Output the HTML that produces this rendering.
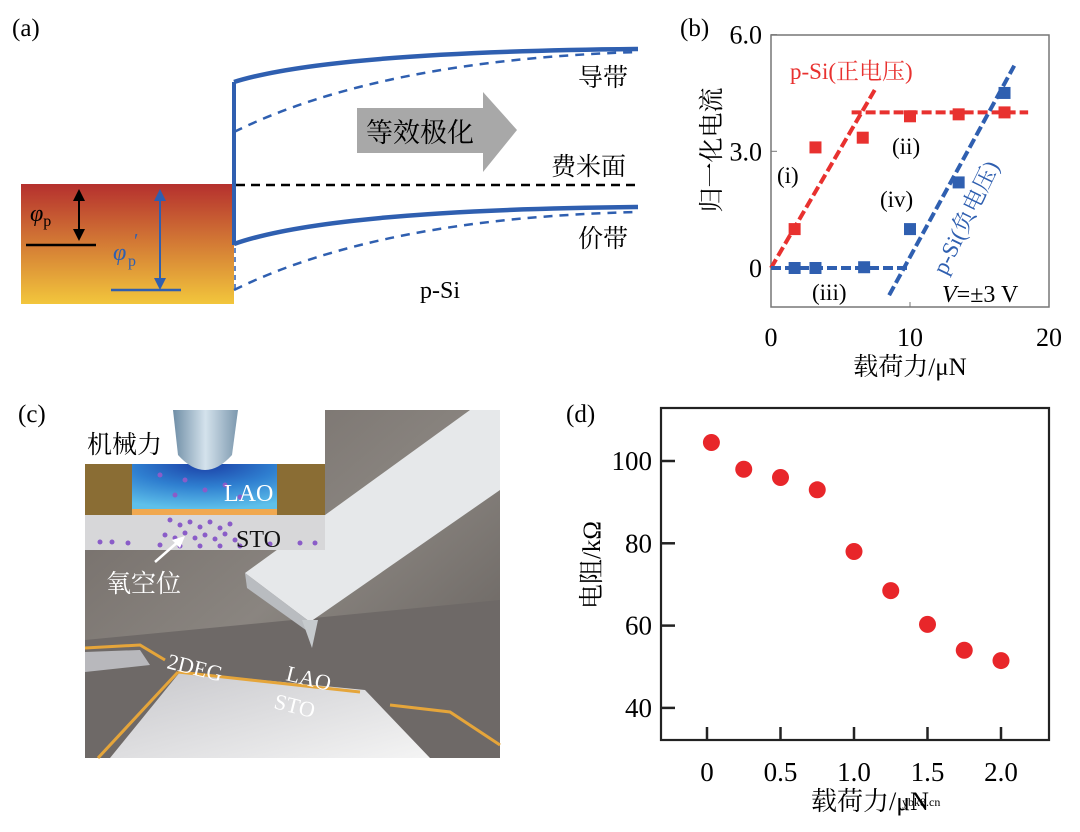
<!DOCTYPE html>
<html><head><meta charset="utf-8"><style>
html,body{margin:0;padding:0;background:#fff}
svg{display:block}
text{font-family:"Liberation Serif","Noto Serif CJK SC","Noto Sans CJK SC",serif}
.cjk{font-family:"Liberation Serif","Noto Serif CJK SC",serif}
</style></head><body>
<svg id="fig" width="1080" height="832" viewBox="0 0 1080 832" xmlns="http://www.w3.org/2000/svg">
<defs>
<linearGradient id="metal" x1="0" y1="0" x2="0" y2="1"><stop offset="0" stop-color="#b5302e"/><stop offset="1" stop-color="#f2c63c"/></linearGradient>
<linearGradient id="bg" x1="0" y1="0" x2="1" y2="1"><stop offset="0" stop-color="#6f6864"/><stop offset="0.5" stop-color="#8a8580"/><stop offset="1" stop-color="#5f5a57"/></linearGradient>
<linearGradient id="tip" x1="0" y1="0" x2="1" y2="0"><stop offset="0" stop-color="#6f8ea6"/><stop offset="0.5" stop-color="#d4e2ec"/><stop offset="1" stop-color="#7c98ae"/></linearGradient>
<radialGradient id="lao" cx="0.5" cy="0" r="1"><stop offset="0" stop-color="#1b3fa6"/><stop offset="0.5" stop-color="#2f7fd0"/><stop offset="1" stop-color="#5ec0ea"/></radialGradient>
<linearGradient id="pit" x1="0" y1="0" x2="1" y2="1"><stop offset="0" stop-color="#c8c8cc"/><stop offset="1" stop-color="#f4f4f4"/></linearGradient>
</defs>

<!-- Panel a -->
<g>
<text x="12" y="36" font-size="25">(a)</text>
<rect x="21" y="184" width="213" height="120" fill="url(#metal)"/>
<line x1="26" y1="245" x2="96" y2="245" stroke="#000" stroke-width="2.5"/>
<line x1="79" y1="196" x2="79" y2="236" stroke="#000" stroke-width="2"/>
<polygon points="79,189 73,201 85,201" fill="#000"/><polygon points="79,241 73,229 85,229" fill="#000"/>
<text x="30" y="221" font-size="24" font-style="italic">φ<tspan font-size="16" font-style="normal" dy="5">p</tspan></text>
<line x1="111" y1="290" x2="181" y2="290" stroke="#2f5fb0" stroke-width="2.5"/>
<line x1="160" y1="196" x2="160" y2="284" stroke="#2f5fb0" stroke-width="2"/>
<polygon points="160,189 154,201 166,201" fill="#2f5fb0"/><polygon points="160,290 154,278 166,278" fill="#2f5fb0"/>
<text x="113" y="260" font-size="24" font-style="italic" fill="#2f5fb0">φ</text>
<text x="128" y="266" font-size="16" fill="#2f5fb0">p</text>
<text x="134" y="247" font-size="20" fill="#2f5fb0">′</text>
<line x1="234" y1="82" x2="234" y2="245" stroke="#2f5fb0" stroke-width="4"/>
<path d="M234,82 Q330,52 638,49" fill="none" stroke="#2f5fb0" stroke-width="4.5"/>
<path d="M234,132 Q380,60 638,52" fill="none" stroke="#2f5fb0" stroke-width="2.5" stroke-dasharray="9,7"/>
<line x1="236" y1="185" x2="638" y2="185" stroke="#000" stroke-width="2.5" stroke-dasharray="9,6"/>
<path d="M234,244 Q330,210 638,207" fill="none" stroke="#2f5fb0" stroke-width="4.5"/>
<path d="M234,290 Q380,218 638,212" fill="none" stroke="#2f5fb0" stroke-width="2.5" stroke-dasharray="9,7"/>
<line x1="235" y1="248" x2="235" y2="290" stroke="#2f5fb0" stroke-width="1.5" stroke-dasharray="5,4"/>
<polygon points="357,108 483,108 483,92 517,130 483,172 483,153 357,153" fill="#a8a8a8"/>
<text x="366" y="142" font-size="27" class="cjk">等效极化</text>
<text x="578" y="86" font-size="25" class="cjk">导带</text>
<text x="551" y="175" font-size="25" class="cjk">费米面</text>
<text x="578" y="247" font-size="25" class="cjk">价带</text>
<text x="420" y="298" font-size="24">p-Si</text>
</g>

<!-- Panel b -->
<g id="pb">
<text x="680" y="36" font-size="25">(b)</text>
<rect x="771" y="35" width="278" height="272" fill="none" stroke="#777" stroke-width="1.5"/>
<text x="0" y="0" font-size="25" class="cjk" transform="translate(720,150) rotate(-90)" text-anchor="middle">归一化电流</text>
<text x="910" y="375" font-size="25" class="cjk" text-anchor="middle">载荷力/μN</text>
<text x="790" y="79" font-size="23" fill="#e8312f" class="cjk">p-Si(正电压)</text>
<text x="0" y="0" font-size="23" fill="#2f5fb0" class="cjk" transform="translate(946,276) rotate(-64)">p-Si(负电压)</text>
<text x="777" y="183" font-size="23">(i)</text>
<text x="892" y="154" font-size="23">(ii)</text>
<text x="812" y="300" font-size="23">(iii)</text>
<text x="880" y="207" font-size="23">(iv)</text>
<text x="942" y="302" font-size="24"><tspan font-style="italic">V</tspan>=±3 V</text>
</g>

<!-- Panel c -->
<g>
<text x="18" y="422" font-size="25">(c)</text>
<rect x="85" y="410" width="415" height="348" fill="url(#bg)"/>
<polygon points="85,640 500,600 500,758 85,758" fill="#6e6967"/>
<polygon points="180,672 365,690 430,758 110,758" fill="url(#pit)"/>
<polyline points="85,648 140,645 165,660" fill="none" stroke="#e5a53a" stroke-width="3"/>
<polyline points="178,672 98,758" fill="none" stroke="#e5a53a" stroke-width="3"/>
<polyline points="178,672 360,692" fill="none" stroke="#e5a53a" stroke-width="3"/>
<polyline points="390,705 450,712 500,745" fill="none" stroke="#e5a53a" stroke-width="3"/>
<polygon points="85,652 140,650 150,665 85,672" fill="#b8b8bc"/>
<polygon points="245,573 470,410 500,410 500,490 310,622" fill="#e6e8ea"/>
<polygon points="245,573 310,622 310,633 247,588" fill="#b9bcc0"/>
<polygon points="302,620 318,620 312,648" fill="#c6cacd"/>
<rect x="85" y="410" width="240" height="54" fill="#fff"/>
<rect x="85" y="464" width="240" height="51" fill="#8a6d34"/>
<rect x="132" y="464" width="145" height="45" fill="url(#lao)"/>
<rect x="132" y="509" width="145" height="6" fill="#f0a850"/>
<rect x="85" y="515" width="240" height="35" fill="#d7d7d9"/>
<g fill="#8a5cc8">
<circle cx="100" cy="542" r="2.5"/><circle cx="112" cy="542" r="2.5"/><circle cx="128" cy="543" r="2.5"/>
<circle cx="170" cy="520" r="2.5"/><circle cx="180" cy="525" r="2.5"/><circle cx="190" cy="522" r="2.5"/><circle cx="200" cy="527" r="2.5"/><circle cx="210" cy="522" r="2.5"/><circle cx="220" cy="528" r="2.5"/><circle cx="230" cy="524" r="2.5"/>
<circle cx="165" cy="535" r="2.5"/><circle cx="175" cy="538" r="2.5"/><circle cx="185" cy="533" r="2.5"/><circle cx="195" cy="538" r="2.5"/><circle cx="205" cy="535" r="2.5"/><circle cx="215" cy="539" r="2.5"/><circle cx="225" cy="534" r="2.5"/><circle cx="235" cy="540" r="2.5"/>
<circle cx="160" cy="545" r="2.5"/><circle cx="180" cy="546" r="2.5"/><circle cx="200" cy="546" r="2.5"/><circle cx="220" cy="546" r="2.5"/><circle cx="240" cy="546" r="2.5"/><circle cx="270" cy="544" r="2.5"/><circle cx="300" cy="543" r="2.5"/><circle cx="315" cy="543" r="2.5"/>
<circle cx="160" cy="475" r="2.5"/><circle cx="185" cy="480" r="2.5"/><circle cx="205" cy="490" r="2.5"/><circle cx="175" cy="495" r="2.5"/><circle cx="225" cy="485" r="2.5"/><circle cx="240" cy="497" r="2.5"/>
</g>
<path d="M173,410 L238,410 L232,455 Q205,485 178,455 Z" fill="url(#tip)"/>
<text x="87" y="453" font-size="25" class="cjk">机械力</text>
<text x="224" y="501" font-size="24" fill="#fff">LAO</text>
<text x="236" y="547" font-size="24" fill="#111">STO</text>
<line x1="155" y1="562" x2="180" y2="540" stroke="#fff" stroke-width="2.5"/>
<polygon points="185,536 172,540 180,548" fill="#fff"/>
<text x="106" y="592" font-size="25" fill="#fff" class="cjk">氧空位</text>
<text x="0" y="0" font-size="22" fill="#fff" transform="translate(166,668) rotate(14)">2DEG</text>
<text x="0" y="0" font-size="22" fill="#fff" transform="translate(285,680) rotate(14)">LAO</text>
<text x="0" y="0" font-size="22" fill="#fff" transform="translate(273,708) rotate(14)">STO</text>
</g>

<!-- Panel d -->
<g id="pd">
<text x="566" y="422" font-size="25">(d)</text>
<rect x="661" y="408" width="388" height="332" fill="none" stroke="#222" stroke-width="2.2"/>
<text x="0" y="0" font-size="25" class="cjk" transform="translate(600,565) rotate(-90)" text-anchor="middle">电阻/kΩ</text>
<text x="870" y="810" font-size="26" class="cjk" text-anchor="middle">载荷力/μN</text>
<text x="902" y="806" font-size="12" font-family="Liberation Sans,sans-serif">ybk8.cn</text>
</g>
</svg>
<script>
// Panel b data
const bRedX=[1.7,3.2,6.6,10,13.5,16.8];
const bRedY=[1.0,3.1,3.35,3.9,3.95,4.0];
const bBlueX=[1.7,3.2,6.7,10,13.5,16.8];
const bBlueY=[0,0,0.02,1.0,2.2,4.5];
const bRedFitX=[0,7.5];const bRedFitY=[0,4.6];
const bRedFlatX=[5.8,18.5];const bRedFlatY=[4.0,4.0];
const bBlueFlatX=[0,10];const bBlueFlatY=[0,0];
const bBlueFitX=[8.5,17.5];const bBlueFitY=[-0.7,5.2];
const bXTicks=[0,10,20];const bXTickLabels=["0","10","20"];
const bYTicks=[0,3,6];const bYTickLabels=["0","3.0","6.0"];
// Panel d data
const dX=[0.03,0.25,0.5,0.75,1.0,1.25,1.5,1.75,2.0];
const dY=[104.5,98,96,93,78,68.5,60.3,54,51.5];
const dXTicks=[0,0.5,1.0,1.5,2.0];const dXTickLabels=["0","0.5","1.0","1.5","2.0"];
const dYTicks=[40,60,80,100];const dYTickLabels=["40","60","80","100"];

const NS="http://www.w3.org/2000/svg";
function mk(tag,attrs,parent){const e=document.createElementNS(NS,tag);for(const k in attrs)e.setAttribute(k,attrs[k]);parent.appendChild(e);return e;}
const bx=v=>771+v*13.9, by=v=>268-v*38.9;
const dx=v=>707+v*147, dy=v=>461-(v-100)*4.115;
const pb=document.getElementById('pb'), pd=document.getElementById('pd');

bXTicks.forEach((t,i)=>{
  const e=mk('text',{x:bx(t),y:346,'font-size':26,'text-anchor':'middle'},pb);e.textContent=bXTickLabels[i];
  
  
  const l=mk('line',{x1:bx(t),x2:bx(t),y1:307,y2:302,stroke:'#777'},pb);
  
  
});
bYTicks.forEach((t,i)=>{
  const e=mk('text',{x:762,y:by(t)+9,'font-size':26,'text-anchor':'end'},pb);e.textContent=bYTickLabels[i];
  
  
  const l=mk('line',{x1:771,x2:777,y1:by(t),y2:by(t),stroke:'#777'},pb);
  
  
});
function fit(xs,ys,col,name){
  const l=mk('line',{x1:bx(xs[0]),y1:by(ys[0]),x2:bx(xs[1]),y2:by(ys[1]),stroke:col,'stroke-width':4,'stroke-dasharray':'10,4'},pb);
  
  
}
fit(bRedFitX,bRedFitY,'#e8312f','fit-line-i');
fit(bRedFlatX,bRedFlatY,'#e8312f','fit-line-ii');
fit(bBlueFlatX,bBlueFlatY,'#2f5fb0','fit-line-iii');
fit(bBlueFitX,bBlueFitY,'#2f5fb0','fit-line-iv');
bRedX.forEach((x,i)=>{
  const r=mk('rect',{x:bx(x)-6,y:by(bRedY[i])-6,width:12,height:12,fill:'#e8312f'},pb);
  
  
});
bBlueX.forEach((x,i)=>{
  const r=mk('rect',{x:bx(x)-6,y:by(bBlueY[i])-6,width:12,height:12,fill:'#2f5fb0'},pb);
  
  
});

dXTicks.forEach((t,i)=>{
  const e=mk('text',{x:dx(t),y:781,'font-size':27,'text-anchor':'middle'},pd);e.textContent=dXTickLabels[i];
  
  
  const l=mk('line',{x1:dx(t),x2:dx(t),y1:740,y2:727,stroke:'#222','stroke-width':2.5},pd);
  
  
});
dYTicks.forEach((t,i)=>{
  const e=mk('text',{x:652,y:dy(t)+9,'font-size':27,'text-anchor':'end'},pd);e.textContent=dYTickLabels[i];
  
  
  const l=mk('line',{x1:661,x2:675,y1:dy(t),y2:dy(t),stroke:'#222','stroke-width':2.5},pd);
  
  
});
dX.forEach((x,i)=>{
  const c=mk('circle',{cx:dx(x),cy:dy(dY[i]),r:8.5,fill:'#e8262a'},pd);
  
  
});
</script>
</body></html>
